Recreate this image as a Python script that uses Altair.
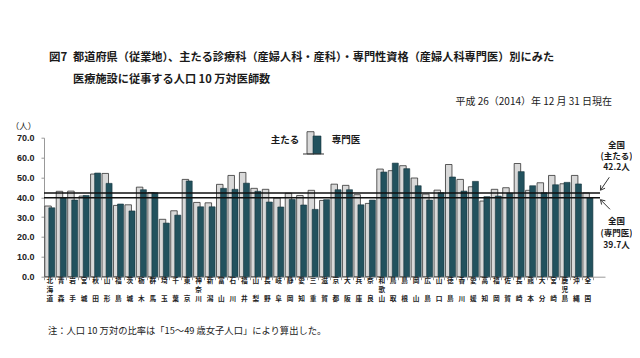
import math
import altair as alt
import pandas as pd

FONT = "Noto Sans CJK JP"

prefectures = ["北海道", "青森", "岩手", "宮城", "秋田", "山形", "福島", "茨城", "栃木", "群馬",
               "埼玉", "千葉", "東京", "神奈川", "新潟", "富山", "石川", "福井", "山梨", "長野",
               "岐阜", "静岡", "愛知", "三重", "滋賀", "京都", "大阪", "兵庫", "奈良", "和歌山",
               "鳥取", "島根", "岡山", "広島", "山口", "徳島", "香川", "愛媛", "高知", "福岡",
               "佐賀", "長崎", "熊本", "大分", "宮崎", "鹿児島", "沖縄", "全国"]
main_values = [35.6, 43.0, 43.1, 40.6, 51.7, 52.0, 35.9, 36.2, 45.1, 42.4,
               28.9, 33.2, 49.0, 37.4, 37.2, 46.5, 51.0, 52.5, 44.5, 44.0,
               39.6, 42.0, 40.9, 43.5, 38.4, 46.6, 46.0, 41.3, 36.9, 54.2,
               53.4, 55.9, 49.7, 41.6, 43.6, 56.5, 49.0, 45.3, 38.1, 44.0,
               44.8, 57.0, 43.5, 47.3, 51.0, 46.8, 51.0, 42.2]
specialist_values = [34.7, 39.8, 38.6, 40.9, 52.2, 47.0, 36.6, 33.1, 43.8, 42.3,
                     27.0, 31.0, 48.2, 35.2, 35.2, 44.5, 44.0, 47.1, 43.0, 37.6,
                     35.1, 38.9, 36.1, 33.9, 38.8, 43.8, 43.8, 36.2, 38.6, 52.7,
                     57.2, 54.4, 45.8, 38.6, 42.3, 50.2, 43.1, 48.0, 40.3, 40.6,
                     42.1, 52.9, 45.8, 42.3, 46.3, 47.5, 46.7, 39.7]
national_lines = [42.2, 39.7]
y_ticks = [0, 10, 20, 30, 40, 50, 60, 70]

title_line1 = "都道府県（従業地）、主たる診療科（産婦人科・産科）・専門性資格（産婦人科専門医）別にみた"
title_line2 = "医療施設に従事する人口 10 万対医師数"
date_text = "平成 26（2014）年 12 月 31 日現在"
note_text = "注：人口 10 万対の比率は「15～49 歳女子人口」により算出した。"

keys = prefectures + ["_"]
top_chars = [n[0] for n in prefectures]
mid_chars = [n[1] if len(n) == 3 else "" for n in prefectures]
bot_chars = [n[-1] for n in prefectures]

df = pd.DataFrame({"key": prefectures, "main": main_values, "spec": specialist_values,
                   "c1": top_chars, "c2": mid_chars, "c3": bot_chars})
one = pd.DataFrame({"a": [0]})

W, H = 561, 139

xenc = alt.X("key:N", sort=keys,
             scale=alt.Scale(domain=keys, paddingInner=0, paddingOuter=0),
             axis=alt.Axis(title=None, labels=False,
                           tickSize=3, bandPosition=0, tickColor="#999", domainColor="#999"))
yscale = alt.Scale(domain=[0, 70], nice=False)
yaxis = alt.Axis(title=None, values=y_ticks, format=".1f", grid=False,
                 labelFont="Liberation Sans", labelFontSize=9, labelFontWeight="bold",
                 labelColor="#222", labelPadding=7, tickSize=3,
                 tickColor="#999", domainColor="#999")

light = alt.Chart(df).mark_bar(size=6.5, xOffset=-1.7, color="#d9d9d9",
                               stroke="#333", strokeWidth=0.8).encode(
    x=xenc, y=alt.Y("main:Q", scale=yscale, axis=yaxis))
dark = alt.Chart(df).mark_bar(size=6, xOffset=2.1, color="#22525e",
                              stroke="#16343c", strokeWidth=0.6).encode(
    x=xenc, y=alt.Y("spec:Q", scale=yscale, axis=yaxis))

lines = alt.Chart(pd.DataFrame({"v": national_lines})).mark_rule(
    color="#111", strokeWidth=1.5).encode(
    y=alt.Y("v:Q", scale=yscale, axis=yaxis), x=alt.value(0), x2=alt.value(556))

label_rows = []
for col, yy in (("c1", H + 4.6), ("c2", H + 13.6), ("c3", H + 22.6)):
    label_rows.append(
        alt.Chart(df).mark_text(font=FONT, fontSize=6.7, fontWeight="bold", color="#222",
                                baseline="middle", align="center").encode(
            x=xenc, y=alt.value(yy), text=f"{col}:N"))


def txt(x, y, s, size, align="center", baseline="middle", weight="normal", lh=None, font=FONT):
    kw = dict(text=s, align=align, baseline=baseline, fontSize=size, font=font,
              fontWeight=weight, color="#1a1a1a")
    if lh is not None:
        kw["lineHeight"] = lh
    return alt.Chart(one).mark_text(**kw).encode(x=alt.value(x), y=alt.value(y))


def rect(x1, x2, y1, y2, fill, stroke, sw):
    return alt.Chart(one).mark_rect(color=fill, stroke=stroke, strokeWidth=sw).encode(
        x=alt.value(x1), x2=alt.value(x2), y=alt.value(y1), y2=alt.value(y2))


def seg(x1, y1, x2, y2, color="#333", sw=1.0):
    return alt.Chart(one).mark_rule(color=color, strokeWidth=sw).encode(
        x=alt.value(x1), x2=alt.value(x2), y=alt.value(y1), y2=alt.value(y2))


def arrow(tx, ty, hx, hy, length=5, ang=32):
    out = [seg(tx, ty, hx, hy)]
    dx, dy = tx - hx, ty - hy
    d = math.hypot(dx, dy)
    ux, uy = dx / d, dy / d
    for s in (1, -1):
        a = math.radians(ang) * s
        rx = ux * math.cos(a) - uy * math.sin(a)
        ry = ux * math.sin(a) + uy * math.cos(a)
        out.append(seg(hx, hy, hx + rx * length, hy + ry * length))
    return out


deco = [
    txt(5, -79.7, "図7", 11.5, align="left", weight="bold"),
    txt(29, -79.7, title_line1, 11.2, align="left", weight="bold"),
    txt(29, -57.7, title_line2, 11.2, align="left", weight="bold"),
    txt(568, -36, date_text, 10, align="right"),
    txt(-20.5, -11.5, "（人）", 8.5),
    # legend
    txt(241, 2.3, "主たる", 9.5, weight="bold"),
    txt(302, 2.3, "専門医", 9.5, weight="bold"),
    rect(263, 270, -6, 16.3, "#d9d9d9", "#333", 0.8),
    rect(269, 277, -1.7, 16.3, "#22525e", "#16343c", 0.6),
    seg(259, 16.3, 280, 16.3, "#333", 1),
    # national annotations
    txt(572.5, 3.3, ["全国", "(主たる)", "42.2人"], 8.5, baseline="top", lh=11, weight="bold"),
    txt(572.5, 79.5, ["全国", "(専門医)", "39.7人"], 8.5, baseline="top", lh=12, weight="bold"),
    txt(4, 193.3, note_text, 9.3, align="left"),
]
deco += arrow(565.3, 39.6, 556.5, 52.5)
deco += arrow(566, 71.6, 556.5, 62.0)

chart = alt.layer(light, dark, lines, *label_rows, *deco).properties(
    width=W, height=H,
    autosize=alt.AutoSizeParams(type="none"),
    padding={"left": 36, "top": 129.7, "right": 27, "bottom": 60},
    background="white",
).configure_view(stroke=None)

chart.save("out.html", embed_options={"renderer": "svg", "actions": False})
